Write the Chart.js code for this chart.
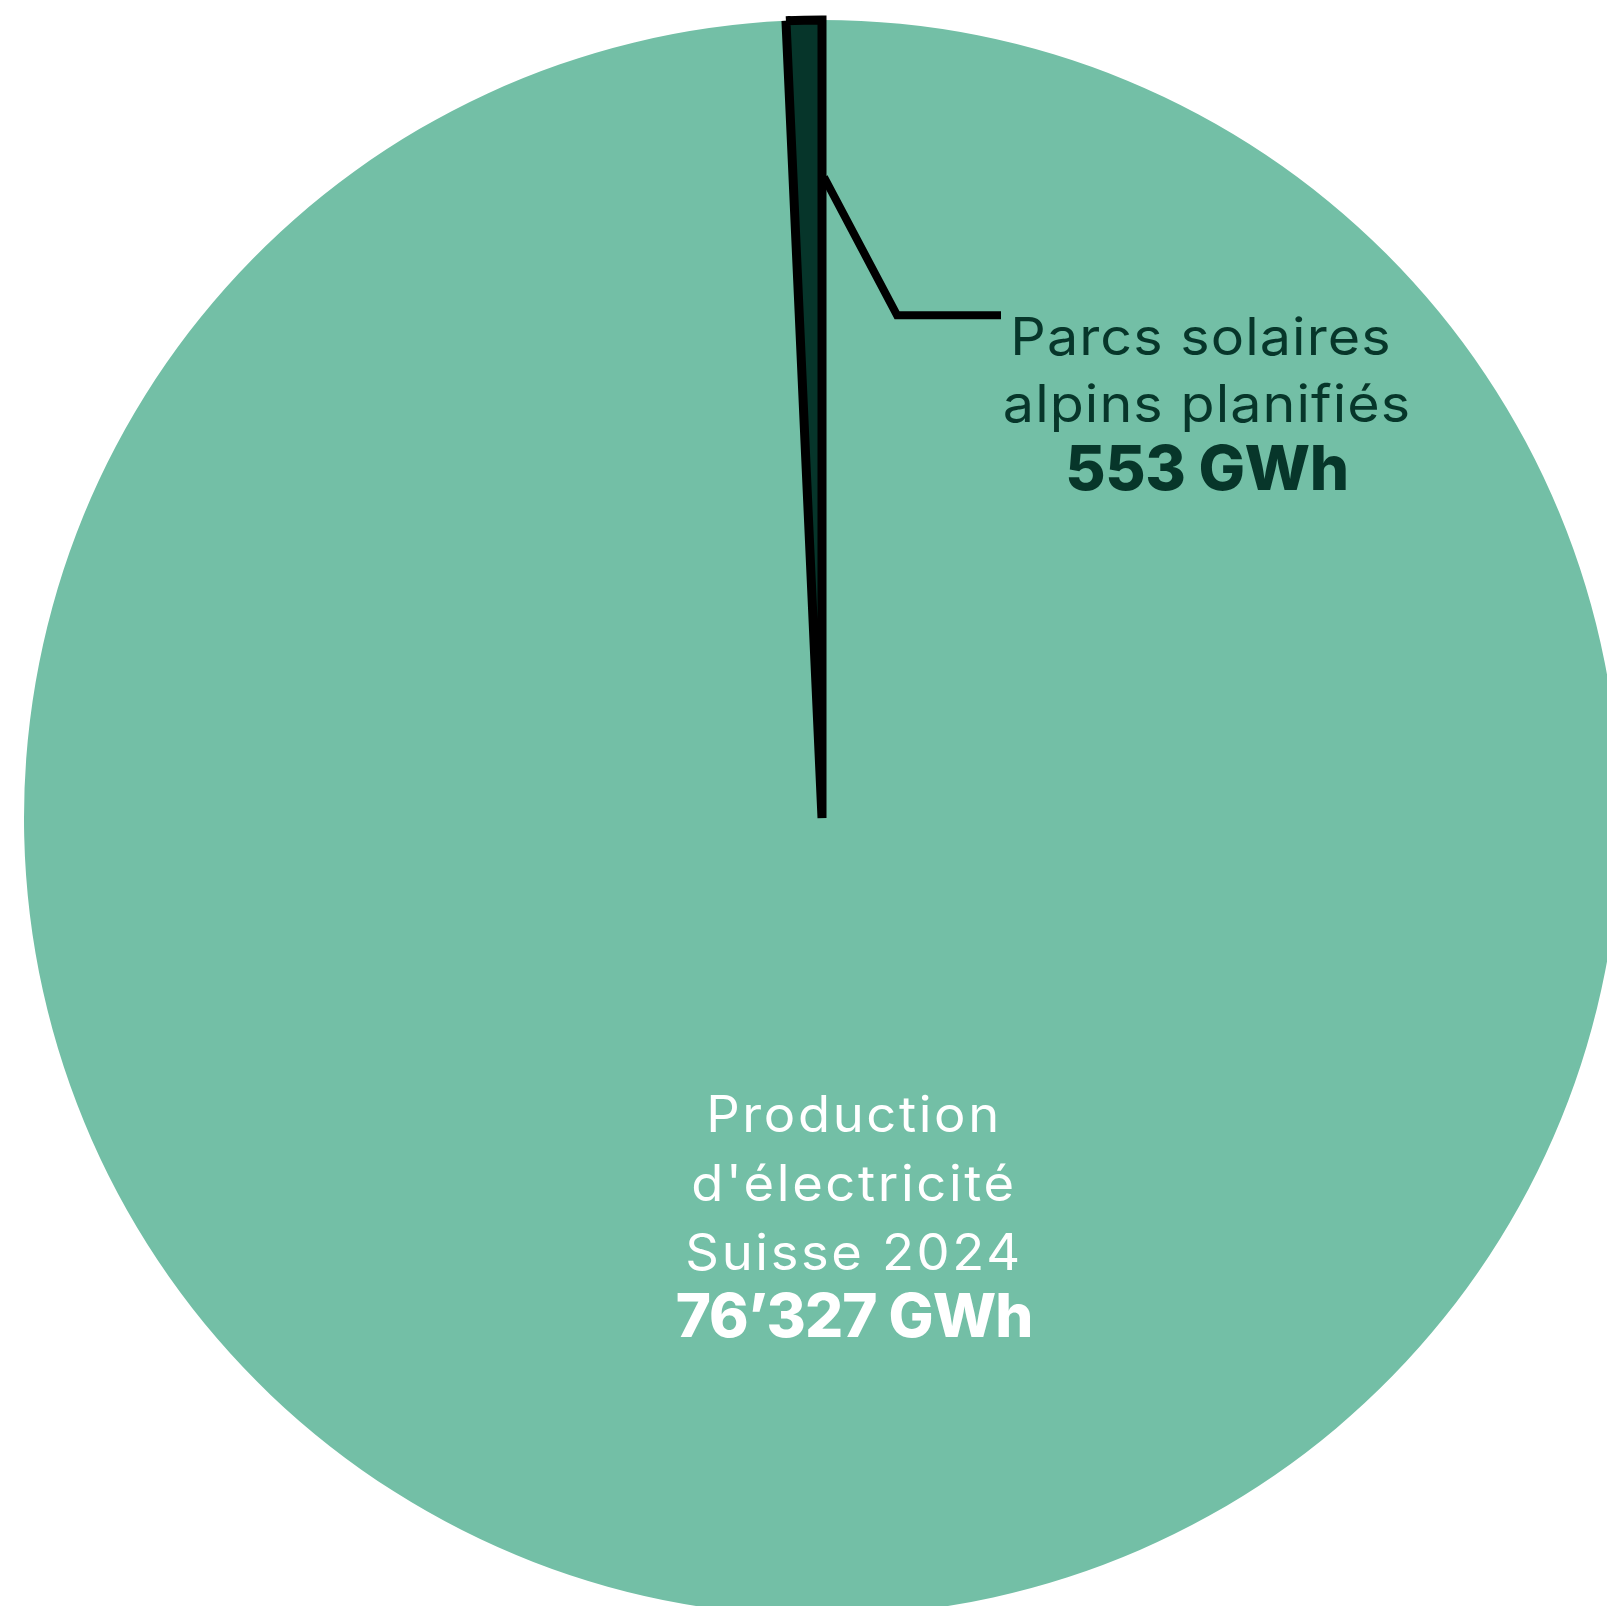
<!DOCTYPE html>
<html>
<head>
<meta charset="utf-8">
<script src="https://cdn.jsdelivr.net/npm/chart.js@4"></script>
<style>
  html, body { margin: 0; padding: 0; background: #ffffff; overflow: hidden; }
  canvas { display: block; }
</style>
</head>
<body>
<canvas id="pie" width="1607" height="1606"></canvas>
<script>
// values in GWh
const categories = ["Production d'électricité Suisse 2024", "Parcs solaires alpins planifiés"];
const values = [76327, 553];
const valueLabels = ["76’327 GWh", "553 GWh"];
const nameLines = [["Production", "d'électricité", "Suisse 2024"], ["Parcs solaires", "alpins planifiés"]];

const FONT = "Inter, 'Noto Sans', sans-serif";

// text a bit stretched sideways, the original font is wider than Inter
function wideText(c, txt, x, y, sx) {
  c.save();
  c.translate(x, y);
  c.scale(sx, 1);
  c.fillText(txt, 0, 0);
  c.restore();
}

// draws the two labels and the leader line for the small slice
const labelPlugin = {
  id: 'labels',
  afterDatasetsDraw(chart) {
    const c = chart.ctx;
    const meta = chart.getDatasetMeta(0);
    const big = meta.data[0];
    const small = meta.data[1];
    c.save();
    c.textAlign = 'center';
    c.textBaseline = 'alphabetic';

    // leader line from right edge of the small slice
    const r0 = small.outerRadius * 0.803;
    const a = small.endAngle;
    const sx = small.x + Math.cos(a) * r0;
    const sy = small.y + Math.sin(a) * r0;
    c.strokeStyle = '#000000';
    c.lineWidth = 8;
    c.lineJoin = 'miter';
    c.beginPath();
    c.moveTo(sx + 2, sy);
    c.lineTo(sx + 75, sy + 138);
    c.lineTo(sx + 179, sy + 138);
    c.stroke();

    // small slice label
    let tx = small.x + 385, ty = small.y - 463;
    c.fillStyle = '#07362a';
    c.font = '400 52px ' + FONT;
    c.letterSpacing = '1px';
    wideText(c, nameLines[1][0], tx - 6, ty, 1.07);
    wideText(c, nameLines[1][1], tx, ty + 67, 1.07);
    c.font = '800 62px ' + FONT;
    c.letterSpacing = '-0.5px';
    c.fillText(valueLabels[1], tx, ty + 135);

    // big slice label
    tx = big.x + 32; ty = big.y + 314;
    c.fillStyle = '#ffffff';
    c.font = '400 50px ' + FONT;
    c.letterSpacing = '2.5px';
    nameLines[0].forEach((ln, i) => wideText(c, ln, tx, ty + i * 69, 1.05));
    c.font = '800 60px ' + FONT;
    c.letterSpacing = '-1px';
    c.fillText(valueLabels[0], tx, ty + 205);
    c.restore();
  }
};

new Chart(document.getElementById('pie'), {
  type: 'pie',
  data: {
    labels: categories,
    datasets: [{
      data: values,
      backgroundColor: ['#73bfa6', '#06352a'],
      borderColor: ['#73bfa6', '#000000'],
      borderWidth: [0, 9],
      borderJoinStyle: 'miter',
      clip: false
    }]
  },
  options: {
    responsive: false,
    animation: false,
    radius: 798,
    layout: { padding: { left: 37, top: 30, right: 0, bottom: 0 } },
    plugins: {
      legend: { display: false },
      tooltip: { enabled: false }
    }
  },
  plugins: [labelPlugin]
});
</script>
</body>
</html>
